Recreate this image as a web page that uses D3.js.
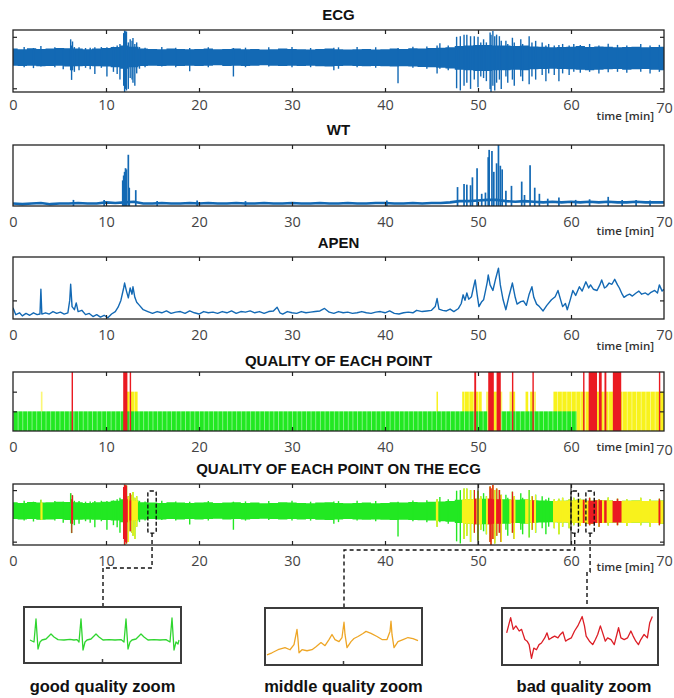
<!DOCTYPE html>
<html>
<head>
<meta charset="utf-8">
<script src="https://cdn.jsdelivr.net/npm/d3@7"></script>
<style>
  body { margin: 0; background: #fff; }
  svg { display: block; }
</style>
</head>
<body>
<svg id="chart" width="674" height="698"></svg>
<script>
// ---------- data ----------
const xTicks = [0, 10, 20, 30, 40, 50, 60, 70];

// ECG envelope, one value per minute (0..70), in normalised amplitude units
const ecgMinutes = d3.range(0, 71);
const ecgUpper = [
  0.40,0.38,0.41,0.39,0.40,0.42,0.41,0.40,0.38,0.40,
  0.42,0.45,0.50,0.46,0.40,0.39,0.38,0.40,0.39,0.38,
  0.39,0.40,0.38,0.39,0.40,0.38,0.39,0.37,0.38,0.40,
  0.39,0.38,0.37,0.39,0.40,0.38,0.37,0.38,0.39,0.37,
  0.38,0.40,0.39,0.41,0.40,0.42,0.43,0.44,0.48,0.50,
  0.52,0.52,0.50,0.50,0.48,0.50,0.47,0.46,0.44,0.45,
  0.46,0.48,0.45,0.47,0.46,0.44,0.45,0.46,0.44,0.45,0.46
];
const ecgLower = [
  -0.15,-0.16,-0.15,-0.17,-0.16,-0.15,-0.18,-0.17,-0.16,-0.17,
  -0.18,-0.20,-0.25,-0.20,-0.16,-0.15,-0.16,-0.15,-0.16,-0.15,
  -0.16,-0.15,-0.14,-0.16,-0.15,-0.16,-0.15,-0.14,-0.15,-0.16,
  -0.15,-0.16,-0.15,-0.17,-0.18,-0.16,-0.15,-0.16,-0.17,-0.16,
  -0.17,-0.18,-0.17,-0.18,-0.19,-0.20,-0.22,-0.24,-0.28,-0.30,
  -0.32,-0.32,-0.30,-0.30,-0.28,-0.30,-0.27,-0.26,-0.25,-0.26,
  -0.27,-0.28,-0.30,-0.28,-0.27,-0.26,-0.28,-0.27,-0.26,-0.28,-0.30
];
// ECG excursions outside the envelope: [time, low, high]
const ecgSpikes = [
  [1.2,-0.20,0.45],[2.2,-0.23,0.42],[3.0,-0.18,0.48],[4.5,-0.20,0.44],[5.4,-0.27,0.42],
  [6.2,-0.30,0.70],[6.3,-0.61,0.50],[6.4,-0.30,0.63],[6.6,-0.35,0.45],[7.1,-0.30,0.44],
  [7.8,-0.22,0.42],[8.3,-0.27,0.43],[8.8,-0.42,0.44],[9.5,-0.22,0.45],[10.1,-0.50,0.44],
  [10.8,-0.35,0.46],[11.2,-0.42,0.50],[11.5,-0.60,0.55],[11.9,-0.80,0.90],[12.0,-1.00,0.98],
  [12.1,-0.90,0.96],[12.2,-0.95,0.95],[12.4,-0.90,0.60],[12.6,-0.55,0.70],[12.8,-0.60,0.65],
  [12.9,-0.70,0.74],[13.1,-0.80,0.55],[13.3,-0.40,0.60],[13.6,-0.25,0.45],[14.2,-0.20,0.43],
  [16.0,-0.18,0.45],[17.5,-0.20,0.43],[19.0,-0.33,0.42],[21.0,-0.20,0.44],[23.7,-0.50,0.42],
  [25.0,-0.20,0.43],[27.5,-0.18,0.44],[30.0,-0.20,0.45],[32.0,-0.20,0.42],[34.5,-0.30,0.43],
  [35.0,-0.25,0.44],[37.0,-0.20,0.45],[39.0,-0.22,0.44],[41.4,-0.72,0.42],[43.0,-0.22,0.46],
  [44.5,-0.25,0.47],[45.6,-0.40,0.50],[45.9,-0.25,0.57],[46.8,-0.30,0.50],[47.7,-0.88,0.78],
  [48.1,-0.95,0.80],[48.5,-0.80,0.85],[48.8,-0.70,0.85],[49.2,-0.90,0.80],[49.6,-0.60,0.80],
  [50.0,-0.85,0.78],[50.3,-0.50,0.60],[50.6,-0.55,0.70],[50.9,-0.65,0.60],[51.3,-0.90,0.92],
  [51.4,-1.00,0.85],[51.6,-0.80,0.97],[51.8,-0.95,0.80],[52.0,-0.70,0.85],[52.3,-0.60,0.80],
  [52.5,-0.90,0.65],[53.0,-0.50,0.65],[53.2,-0.70,0.55],[53.7,-0.60,0.75],[53.9,-0.80,0.60],
  [54.6,-0.50,0.70],[54.8,-0.65,0.55],[55.5,-0.75,0.80],[55.8,-0.50,0.60],[56.2,-0.60,0.65],
  [56.9,-0.45,0.60],[57.3,-0.65,0.50],[57.6,-0.40,0.55],[58.2,-0.45,0.50],[58.7,-0.65,0.52],
  [59.1,-0.40,0.55],[59.8,-0.45,0.50],[60.3,-0.35,0.55],[61.0,-0.38,0.52],[62.0,-0.35,0.55],
  [63.0,-0.40,0.50],[64.0,-0.36,0.56],[65.0,-0.35,0.52],[66.0,-0.38,0.50],[67.5,-0.35,0.55],
  [68.5,-0.40,0.50],[69.5,-0.35,0.52]
];

// WT baseline (per minute) and peaks [time, value]
const wtBaseline = [
  0.04,0.03,0.04,0.05,0.03,0.04,0.04,0.05,0.04,0.04,
  0.06,0.05,0.06,0.07,0.04,0.04,0.05,0.04,0.04,0.05,
  0.04,0.05,0.04,0.04,0.05,0.04,0.04,0.05,0.04,0.04,
  0.05,0.04,0.04,0.05,0.04,0.04,0.05,0.04,0.04,0.05,
  0.05,0.04,0.04,0.05,0.04,0.05,0.05,0.06,0.08,0.08,
  0.09,0.10,0.10,0.08,0.07,0.08,0.07,0.06,0.07,0.06,
  0.07,0.06,0.07,0.06,0.07,0.06,0.06,0.07,0.06,0.06,0.06
];
const wtPeaks = [
  [6.5,0.10],[9.8,0.10],[11.8,0.42],[11.9,0.50],[12.0,0.56],[12.1,0.62],[12.2,0.60],[12.4,0.84],
  [12.5,0.30],[13.2,0.26],[15.5,0.08],[19.8,0.09],[25.0,0.08],[40.2,0.09],[47.8,0.31],[48.5,0.36],
  [48.8,0.35],[49.2,0.34],[49.4,0.47],[49.9,0.62],[50.4,0.20],[50.8,0.22],[51.1,0.80],[51.2,0.92],
  [51.5,0.90],[51.7,0.56],[52.0,0.70],[52.2,1.00],[52.4,0.66],[52.6,0.60],[53.0,0.25],[53.6,0.33],
  [54.7,0.40],[55.0,0.18],[55.6,0.67],[56.1,0.30],[56.6,0.20],[57.5,0.12],[58.7,0.14],[60.5,0.10],
  [62.0,0.11],[64.0,0.15],[65.5,0.10],[67.0,0.10],[68.5,0.09]
];

// Approximate entropy over time [time, value]
const apen = [
  [0,0.18],[0.3,0.07],[0.7,0.10],[1.0,0.05],[1.4,0.09],[1.8,0.06],[2.2,0.10],[2.6,0.07],[2.9,0.08],
  [3.0,0.48],[3.1,0.08],[3.5,0.10],[3.9,0.08],[4.3,0.12],[4.7,0.09],[5.1,0.11],[5.5,0.08],[5.9,0.10],
  [6.1,0.30],[6.2,0.56],[6.35,0.20],[6.6,0.15],[6.8,0.26],[7.0,0.12],[7.4,0.14],[7.8,0.07],[8.2,0.09],
  [8.6,0.04],[9.0,0.07],[9.4,0.03],[9.8,0.06],[10.2,0.02],[10.6,0.08],[11.0,0.12],[11.3,0.19],[11.6,0.30],
  [11.9,0.50],[12.0,0.58],[12.2,0.45],[12.4,0.34],[12.6,0.50],[12.8,0.40],[12.9,0.52],[13.1,0.35],
  [13.3,0.27],[13.6,0.22],[14.0,0.15],[14.5,0.12],[15.0,0.09],[15.5,0.12],[16.0,0.10],[16.5,0.13],
  [17.0,0.09],[17.5,0.11],[18.0,0.12],[18.5,0.09],[19.0,0.13],[19.5,0.10],[20.0,0.08],[20.5,0.12],
  [21.0,0.10],[21.5,0.11],[22.0,0.09],[22.5,0.12],[23.0,0.10],[23.5,0.13],[24.0,0.09],[24.5,0.12],
  [25.0,0.11],[25.5,0.13],[26.0,0.10],[26.5,0.12],[27.0,0.09],[27.5,0.12],[28.0,0.13],[28.4,0.19],
  [28.7,0.10],[29.0,0.08],[29.5,0.12],[30.0,0.10],[30.5,0.09],[31.0,0.12],[31.5,0.10],[32.0,0.11],
  [32.5,0.12],[33.0,0.13],[33.5,0.17],[34.0,0.11],[34.5,0.09],[35.0,0.12],[35.5,0.10],[36.0,0.11],
  [36.5,0.09],[37.0,0.10],[37.5,0.12],[38.0,0.10],[38.5,0.09],[39.0,0.11],[39.5,0.12],[40.0,0.10],
  [40.5,0.13],[41.0,0.09],[41.5,0.08],[42.0,0.10],[42.5,0.11],[43.0,0.10],[43.4,0.14],[44.0,0.12],
  [44.5,0.13],[45.0,0.14],[45.4,0.20],[45.6,0.33],[45.8,0.16],[46.2,0.14],[46.6,0.13],[47.0,0.16],
  [47.4,0.12],[47.9,0.17],[48.2,0.25],[48.4,0.39],[48.6,0.30],[48.8,0.42],[49.0,0.32],[49.3,0.36],
  [49.5,0.50],[49.7,0.63],[49.9,0.40],[50.1,0.20],[50.4,0.28],[50.6,0.31],[50.8,0.45],[51.0,0.60],
  [51.1,0.71],[51.3,0.55],[51.6,0.46],[51.9,0.65],[52.2,0.82],[52.4,0.55],[52.7,0.31],[53.0,0.15],
  [53.3,0.35],[53.7,0.58],[54.0,0.35],[54.2,0.24],[54.6,0.28],[54.9,0.29],[55.2,0.22],[55.5,0.40],
  [55.8,0.52],[56.0,0.35],[56.3,0.24],[56.6,0.20],[57.0,0.13],[57.4,0.22],[57.9,0.31],[58.3,0.36],
  [58.6,0.46],[58.9,0.30],[59.1,0.20],[59.4,0.25],[59.6,0.15],[59.9,0.30],[60.2,0.46],[60.5,0.38],
  [60.9,0.52],[61.2,0.45],[61.6,0.60],[61.9,0.50],[62.1,0.55],[62.4,0.48],[62.8,0.46],[63.1,0.55],
  [63.3,0.63],[63.6,0.50],[63.8,0.52],[64.1,0.58],[64.4,0.56],[64.7,0.64],[65.0,0.55],[65.2,0.50],
  [65.5,0.40],[65.7,0.35],[66.0,0.38],[66.3,0.40],[66.6,0.37],[67.0,0.42],[67.3,0.45],[67.6,0.40],
  [68.0,0.42],[68.3,0.39],[68.6,0.43],[69.0,0.46],[69.3,0.42],[69.5,0.55],[69.8,0.45],[70,0.48]
];

// Signal quality intervals [start, end] in minutes
const qualityGood   = [[0, 51.0], [52.5, 60.6]];
const qualityMiddle = [[3.0,3.15],[12.2,13.4],[45.5,45.7],[48.3,50.4],[50.9,52.6],[53.4,54.0],
                       [55.1,55.4],[55.6,56.2],[58.1,70]];
const qualityBad    = [[6.3,6.4],[11.85,12.3],[12.55,12.65],[49.6,49.8],[51.1,51.7],[52.0,52.45],
                       [53.65,53.75],[55.85,55.95],[61.3,61.4],[61.9,62.8],[63.0,63.3],[63.6,63.8],
                       [64.5,65.4],[69.45,69.55]];
const qualityLevels = { good: 1, middle: 2, bad: 3 };

// Marked excerpts on the quality-coloured ECG [start, end] in minutes
const zoomWindows = [[14.5, 15.4], [60.0, 60.8], [61.6, 62.5]];
const zoomLabels = ['good quality zoom', 'middle quality zoom', 'bad quality zoom'];

// Excerpt traces [sample, amplitude]
const goodTrace = [
  [6,0.0],[8,-0.05],[10,-0.1],[12,1.05],[13,0.3],[14,-0.45],[16,-0.1],[18,0.0],[22,0.05],[27,0.3],
  [30,0.15],[34,0.02],[40,0.0],[46,0.03],[50,0.0],[53,0.02],[55,-0.1],[57,1.05],[58,0.3],[59,-0.5],
  [61,-0.1],[63,0.0],[67,0.05],[72,0.3],[75,0.15],[79,0.0],[85,0.02],[91,0.0],[97,0.02],[100,-0.1],
  [102,1.05],[103,0.3],[104,-0.45],[106,-0.1],[108,0.0],[112,0.05],[117,0.3],[120,0.15],[124,0.0],
  [130,0.02],[136,0.0],[142,0.02],[146,-0.1],[148,1.1],[149,0.3],[150,-0.5],[152,-0.1],[154,-0.2],[155,0.0]
];
const middleTrace = [
  [2,-0.65],[7,-0.55],[13,-0.4],[20,-0.3],[25,-0.4],[29,-0.15],[32,0.6],[33,0.1],[34,-0.55],[37,-0.4],
  [42,-0.45],[47,-0.4],[51,-0.25],[56,-0.05],[60,-0.2],[64,0.1],[67,0.35],[70,0.1],[74,0.0],[77,0.2],
  [79,0.95],[80,0.35],[82,-0.3],[86,0.0],[89,0.15],[93,0.25],[98,0.4],[101,0.5],[106,0.4],[112,0.25],
  [117,0.1],[122,0.1],[125,0.5],[126,1.0],[127,0.35],[129,-0.3],[133,0.0],[138,0.1],[143,0.2],
  [148,0.15],[153,0.05]
];
const badTrace = [
  [4.7,0.43],[8.7,1.18],[11.3,0.6],[14,0.77],[17.3,0.52],[19.7,0.6],[23,0.1],[25.3,0.02],[27.3,-0.15],
  [29.7,-0.82],[32,-0.32],[34.7,-0.4],[37.3,-0.15],[39.7,-0.07],[43,0.18],[45.3,0.43],[47.3,0.1],
  [49.7,0.18],[53,0.27],[56.3,0.18],[58.7,0.35],[61.3,0.47],[64,0.02],[66.3,0.1],[69.7,0.18],
  [73,0.52],[76.3,0.77],[80.7,1.23],[83,0.77],[84.7,0.27],[88,0.02],[91.3,-0.15],[94,0.1],[96.3,0.35],
  [99,0.77],[101.3,0.43],[104,0.02],[106.3,0.18],[109.7,0.1],[113,-0.15],[117.3,0.68],[119.7,0.18],
  [123,0.1],[126.3,0.18],[129.7,0.52],[132,0.27],[134.7,0.02],[137.3,-0.15],[139.7,0.1],[143,0.35],
  [146.3,0.18],[148.7,0.93],[151.3,1.23]
];

// ---------- drawing ----------
const svg = d3.select('#chart');
const defs = svg.append('defs');
const ink = '#222';
const blue = '#1369b4';
const qColors = { good: '#22e822', middle: '#f8f21c', bad: '#ea1a22' };
const traceColors = ['#2fd52f', '#eea626', '#dc1e26'];
const tickFont = '"Open Sans", "Liberation Sans", Arial, sans-serif';
const titleFont = '"Liberation Sans", Arial, sans-serif';

const x = d3.scaleLinear().domain([0, 70]).range([13, 664]);

const panels = [
  { title: 'ECG', top: 30, bottom: 92, titleY: 16, pad: 8, unitY: 117, yDomain: [-1, 1], yTicks: [-0.88, 0.78] },
  { title: 'WT', top: 145, bottom: 206, titleY: 131, pad: 11, unitY: 232, yDomain: [0, 1], yTicks: [] },
  { title: 'APEN', top: 257, bottom: 319, titleY: 244, pad: 11, unitY: 347, yDomain: [0, 1], yTicks: [0.3] },
  { title: 'QUALITY OF EACH POINT', top: 372, bottom: 431, titleY: 362, pad: 11, unitY: 448, yDomain: [0, 3], yTicks: [1, 2] },
  { title: 'QUALITY OF EACH POINT ON THE ECG', top: 484, bottom: 545, titleY: 470, pad: 11, unitY: 568, yDomain: [-1, 1], yTicks: [-0.89, 0.8] }
];

panels.forEach((p, i) => {
  p.y = d3.scaleLinear().domain(p.yDomain).range([p.bottom, p.top]);
  defs.append('clipPath').attr('id', 'clip' + i)
    .append('rect').attr('x', x(0)).attr('y', p.top)
    .attr('width', x(70) - x(0)).attr('height', p.bottom - p.top);
  p.g = svg.append('g');
  p.plot = p.g.append('g').attr('clip-path', `url(#clip${i})`);
});

function drawFrame(p, i) {
  const g = p.g;
  g.append('text').attr('x', (x(0) + x(70)) / 2).attr('y', p.titleY)
    .attr('text-anchor', 'middle').attr('dominant-baseline', 'middle')
    .attr('font-family', titleFont).attr('font-weight', 'bold').attr('font-size', 15)
    .attr('fill', '#111').text(p.title);

  g.append('rect').attr('x', x(0)).attr('y', p.top)
    .attr('width', x(70) - x(0)).attr('height', p.bottom - p.top)
    .attr('fill', 'none').attr('stroke', ink).attr('stroke-width', 1.3);

  const bottomAxis = g.append('g').attr('transform', `translate(0,${p.bottom})`)
    .call(d3.axisBottom(x).tickValues(xTicks).tickSize(-4).tickPadding(p.pad).tickFormat(d3.format('d')));
  const topAxis = g.append('g').attr('transform', `translate(0,${p.top})`)
    .call(d3.axisTop(x).tickValues(xTicks.slice(1, -1)).tickSize(-4).tickFormat(''));
  const leftAxis = g.append('g').attr('transform', `translate(${x(0)},0)`)
    .call(d3.axisLeft(p.y).tickValues(p.yTicks).tickSize(-4).tickFormat(''));
  const rightAxis = g.append('g').attr('transform', `translate(${x(70)},0)`)
    .call(d3.axisRight(p.y).tickValues(p.yTicks).tickSize(-4).tickFormat(''));
  [bottomAxis, topAxis, leftAxis, rightAxis].forEach(a => {
    a.select('.domain').remove();
    a.selectAll('line').attr('stroke', ink).attr('stroke-width', 1.2);
  });
  bottomAxis.selectAll('line').filter(d => d === 0 || d === 70).remove();
  bottomAxis.selectAll('text').attr('font-family', tickFont).attr('font-size', 14.5).attr('fill', '#444');
  if (i === 3 || i === 0) bottomAxis.selectAll('text').filter(d => d === 70).attr('y', p.pad + 3);

  g.append('text').attr('x', 654).attr('y', p.unitY)
    .attr('text-anchor', 'end').attr('dominant-baseline', 'middle')
    .attr('font-family', tickFont).attr('font-weight', 600).attr('font-size', 11.5)
    .attr('fill', '#333').text('time [min]');
}

// ECG band + spikes into a target group
function drawEcg(target, yScale, color) {
  const band = ecgMinutes.map((t, k) => ({ t, hi: ecgUpper[k], lo: ecgLower[k] }));
  target.append('path').datum(band)
    .attr('d', d3.area().x(d => x(d.t)).y0(d => yScale(d.lo)).y1(d => yScale(d.hi)).curve(d3.curveStep))
    .attr('fill', color);
  target.selectAll('line.spike').data(ecgSpikes).join('line').attr('class', 'spike')
    .attr('x1', d => x(d[0])).attr('x2', d => x(d[0]))
    .attr('y1', d => yScale(d[1])).attr('y2', d => yScale(d[2]))
    .attr('stroke', color).attr('stroke-width', 1.4);
}

// Panel 1: ECG
drawEcg(panels[0].plot, panels[0].y, blue);

// Panel 2: WT
{
  const p = panels[1];
  p.plot.append('path').datum(wtBaseline)
    .attr('d', d3.line().x((d, k) => x(ecgMinutes[k])).y(d => p.y(d)))
    .attr('fill', 'none').attr('stroke', blue).attr('stroke-width', 2.6);
  p.plot.selectAll('line.peak').data(wtPeaks).join('line').attr('class', 'peak')
    .attr('x1', d => x(d[0])).attr('x2', d => x(d[0]))
    .attr('y1', p.y(0)).attr('y2', d => p.y(d[1]))
    .attr('stroke', blue).attr('stroke-width', 1.7);
}

// Panel 3: APEN
{
  const p = panels[2];
  p.plot.append('path').datum(apen)
    .attr('d', d3.line().x(d => x(d[0])).y(d => p.y(d[1])))
    .attr('fill', 'none').attr('stroke', blue).attr('stroke-width', 1.4)
    .attr('stroke-linejoin', 'round');
}

// Panel 4: quality bars, striped every half minute
{
  const p = panels[3];
  const step = x(0.5) - x(0);
  [['stripeGood', qColors.good], ['stripeMid', qColors.middle]].forEach(([id, c]) => {
    const pat = defs.append('pattern').attr('id', id).attr('patternUnits', 'userSpaceOnUse')
      .attr('x', x(0)).attr('y', 0).attr('width', step).attr('height', 20);
    pat.append('rect').attr('width', step).attr('height', 20).attr('fill', c);
    pat.append('rect').attr('width', 0.8).attr('height', 20).attr('fill', '#fff').attr('opacity', 0.55);
  });
  const bars = (data, level, fill, minW) => p.plot.append('g').selectAll('rect').data(data).join('rect')
    .attr('x', d => x(d[0]))
    .attr('width', d => Math.max(minW, x(d[1]) - x(d[0])))
    .attr('y', p.y(level)).attr('height', p.y(0) - p.y(level))
    .attr('fill', fill);
  bars(qualityMiddle, qualityLevels.middle, 'url(#stripeMid)', 1.2);
  bars(qualityGood, qualityLevels.good, 'url(#stripeGood)', 1.2);
  bars(qualityBad, qualityLevels.bad, qColors.bad, 1.4);
}

// Panel 5: ECG coloured by quality
{
  const p = panels[4];
  const mk = (id, data, minW) => {
    const cp = defs.append('clipPath').attr('id', id);
    cp.selectAll('rect').data(data).join('rect')
      .attr('x', d => x(d[0]) - 0.3)
      .attr('width', d => Math.max(minW, x(d[1]) - x(d[0]) + 0.6))
      .attr('y', p.top).attr('height', p.bottom - p.top);
  };
  mk('clipMid', qualityMiddle, 1.6);
  mk('clipBad', qualityBad, 1.8);
  drawEcg(p.plot.append('g'), p.y, qColors.good);
  drawEcg(p.plot.append('g').attr('clip-path', 'url(#clipMid)'), p.y, qColors.middle);
  drawEcg(p.plot.append('g').attr('clip-path', 'url(#clipBad)'), p.y, qColors.bad);
  // reference lines at 50 and 60 min
  p.g.selectAll('line.ref').data([50, 60]).join('line').attr('class', 'ref')
    .attr('x1', d => x(d)).attr('x2', d => x(d))
    .attr('y1', p.top).attr('y2', p.bottom)
    .attr('stroke', ink).attr('stroke-width', 1.1);
}

panels.forEach(drawFrame);

// Excerpt markers, connectors and excerpt boxes
{
  const p = panels[4];
  const boxes = [
    { x: 24, y: 607, w: 157, h: 56, drop: 103, elbow: 568, trace: goodTrace },
    { x: 265, y: 608, w: 157, h: 57, drop: 344, elbow: 550, trace: middleTrace },
    { x: 502, y: 608, w: 156, h: 57, drop: 587, elbow: 572, trace: badTrace }
  ];
  const markTop = p.y(0.77), markBottom = p.y(-0.61);
  const dash = '4,3';
  zoomWindows.forEach((w, k) => {
    const b = boxes[k];
    svg.append('rect').attr('x', x(w[0])).attr('y', markTop)
      .attr('width', x(w[1]) - x(w[0])).attr('height', markBottom - markTop)
      .attr('rx', 2).attr('fill', 'none').attr('stroke', '#111')
      .attr('stroke-width', 1.4).attr('stroke-dasharray', '4,2');
    const cx = (x(w[0]) + x(w[1])) / 2;
    const path = d3.path();
    path.moveTo(cx, markBottom);
    path.lineTo(cx, b.elbow);
    path.lineTo(b.drop, b.elbow);
    path.lineTo(b.drop, b.y);
    svg.append('path').attr('d', path.toString()).attr('fill', 'none')
      .attr('stroke', '#111').attr('stroke-width', 1.4).attr('stroke-dasharray', dash);

    const bx = d3.scaleLinear().domain([0, 157]).range([b.x, b.x + b.w]);
    const by = d3.scaleLinear().domain([-1.15, 1.65]).range([b.y + b.h, b.y]);
    svg.append('path').datum(b.trace)
      .attr('d', d3.line().x(d => bx(d[0])).y(d => by(d[1])))
      .attr('fill', 'none').attr('stroke', traceColors[k]).attr('stroke-width', 1.3)
      .attr('stroke-linejoin', 'round');
    svg.append('rect').attr('x', b.x).attr('y', b.y).attr('width', b.w).attr('height', b.h)
      .attr('fill', 'none').attr('stroke', '#3c3c3c').attr('stroke-width', 2);
    svg.append('line').attr('x1', b.x + b.w / 2).attr('x2', b.x + b.w / 2)
      .attr('y1', b.y + b.h).attr('y2', b.y + b.h - 4).attr('stroke', '#3c3c3c').attr('stroke-width', 1.5);
    svg.append('text').attr('x', b.x + b.w / 2 + (k === 2 ? 4 : 0)).attr('y', 688)
      .attr('text-anchor', 'middle').attr('dominant-baseline', 'middle')
      .attr('font-family', titleFont).attr('font-weight', 'bold').attr('font-size', 16.5)
      .attr('fill', '#111').text(zoomLabels[k]);
  });
}
</script>
</body>
</html>
